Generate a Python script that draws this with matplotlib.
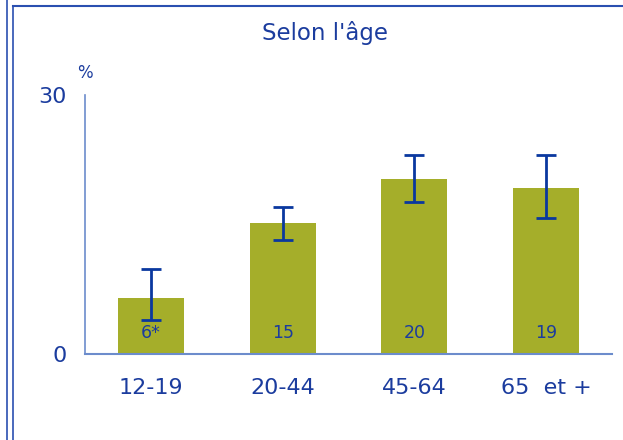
import matplotlib
matplotlib.use("Agg")
import matplotlib.pyplot as plt
from matplotlib.lines import Line2D

categories = ["12-19", "20-44", "45-64", "65  et +"]
values = [6.5, 15.2, 20.3, 19.2]
err_low = [3.9, 13.2, 17.6, 15.8]
err_high = [9.9, 17.0, 23.0, 23.0]
value_labels = ["6*", "15", "20", "19"]
title = "Selon l'âge"

text_color = "#1b3c9e"
bar_color = "#a5ae2a"
axis_color = "#6c8ccc"
err_color = "#0a389f"

fig = plt.figure(figsize=(6.23, 4.40), dpi=100)
ax = fig.add_axes([85/623, 1-354/440, (612-85)/623, (354-95)/440])

x = list(range(len(categories)))
ax.bar(x, values, width=0.5, color=bar_color, zorder=2)
lower = [v - l for v, l in zip(values, err_low)]
upper = [h - v for v, h in zip(values, err_high)]
ax.errorbar(x, values, yerr=[lower, upper], fmt="none", ecolor=err_color,
            elinewidth=2, capsize=7, capthick=2, zorder=3)

for xi, lab in zip(x, value_labels):
    ax.text(xi, 2.4, lab, ha="center", va="center", fontsize=12.5, color=text_color, zorder=4)

ax.set_xlim(-0.5, 3.5)
ax.set_ylim(0, 30)
for s in ["top", "right"]:
    ax.spines[s].set_visible(False)
ax.spines["left"].set_color(axis_color)
ax.spines["bottom"].set_color(axis_color)
ax.spines["left"].set_linewidth(1.2)
ax.spines["bottom"].set_linewidth(1.5)
ax.set_yticks([0, 30])
ax.set_yticklabels(["0", "30"])
ax.tick_params(axis="y", length=0, pad=13, labelsize=16, labelcolor=text_color)
ax.set_xticks(x)
ax.set_xticklabels(categories)
ax.tick_params(axis="x", length=0, pad=17, labelsize=16, labelcolor=text_color)

fig.text(325/623, 1-33/440, title, ha="center", va="center", fontsize=16.5, color=text_color)
fig.text(85/623, 1-73/440, "%", ha="center", va="center", fontsize=12, color=text_color)

frame_color = "#2a4fb0"
fig.add_artist(Line2D([7/623, 7/623], [0, 1], transform=fig.transFigure, color=frame_color, lw=1.2))
fig.add_artist(Line2D([13.5/623, 13.5/623], [0, 1-6/440], transform=fig.transFigure, color=frame_color, lw=1.2))
fig.add_artist(Line2D([13.5/623, 1], [1-6/440, 1-6/440], transform=fig.transFigure, color=frame_color, lw=1.5))

fig.savefig("out.png", dpi=100)
